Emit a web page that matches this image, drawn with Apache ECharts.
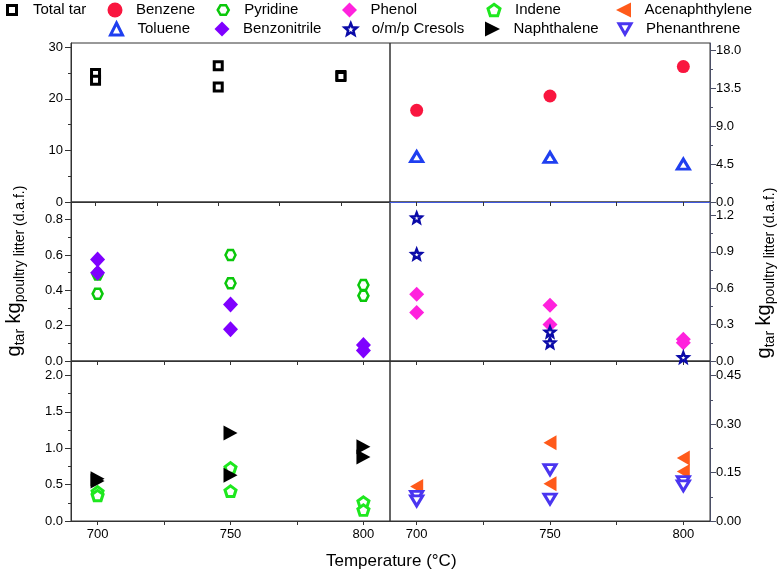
<!DOCTYPE html>
<html><head><meta charset="utf-8">
<script src="https://cdn.jsdelivr.net/npm/echarts@6/dist/echarts.min.js"></script>
<style>html,body{margin:0;padding:0;background:#fff}#c{width:781px;height:572px}</style>
</head><body><div id="c"></div>
<script>
// ---------- data ----------
const temps = [700, 750, 800];
const totalTar      = [[700,24.9],[700,23.6],[750,26.4],[750,22.3],[800,24.5],[800,24.3]];
const benzene       = [[700,10.9],[750,12.6],[800,16.1]];
const toluene       = [[700,5.4],[750,5.3],[800,4.5]];
const pyridine      = [[700,0.49],[700,0.38],[750,0.60],[750,0.44],[800,0.43],[800,0.37]];
const benzonitrile  = [[700,0.575],[700,0.50],[750,0.32],[750,0.18],[800,0.09],[800,0.06]];
const phenol        = [[700,0.55],[700,0.40],[750,0.46],[750,0.30],[800,0.18],[800,0.15]];
const cresols       = [[700,1.18],[700,0.88],[750,0.24],[750,0.15],[800,0.03]];
const indene        = [[700,0.40],[700,0.35],[750,0.73],[750,0.41],[800,0.26],[800,0.15]];
const naphthalene   = [[700,0.58],[700,0.55],[750,1.21],[750,0.63],[800,1.02],[800,0.88]];
const acenaphthylene= [[700,0.107],[750,0.242],[750,0.115],[800,0.195],[800,0.153]];
const phenanthrene  = [[700,0.076],[700,0.062],[750,0.159],[750,0.068],[800,0.122],[800,0.109]];

const seriesNames = ['Total tar','Benzene','Toluene','Pyridine','Benzonitrile','Phenol','o/m/p Cresols','Indene','Naphthalene','Acenaphthylene','Phenanthrene'];

// tick values
const xLabelVals = [700, 750, 800];
const xTickVals  = [700, 725, 750, 775, 800];
const yTL = [0,10,20,30],          yTLminor = [5,15,25];
const yTR = [0,4.5,9,13.5,18],     yTRminor = [2.25,6.75,11.25,15.75];
const yML = [0,0.2,0.4,0.6,0.8],   yMLminor = [0.1,0.3,0.5,0.7];
const yMR = [0,0.3,0.6,0.9,1.2],   yMRminor = [0.15,0.45,0.75,1.05];
const yBL = [0,0.5,1,1.5,2],       yBLminor = [0.25,0.75,1.25,1.75];
const yBR = [0,0.15,0.3,0.45],     yBRminor = [0.075,0.225,0.375];
// axis ranges
const xMin = 690, xMaxTL = 820, xMax = 810;
const yMax = [30.8, 18.9, 0.9, 1.31, 2.2, 0.495];

// ---------- layout / style ----------
const FONT = '"Liberation Sans", Arial, sans-serif';
const grid = [
 {left:71, top:43, width:319, height:159},
 {left:390, top:43, width:320, height:159},
 {left:71, top:202, width:319, height:159},
 {left:390, top:202, width:320, height:159},
 {left:71, top:361, width:319, height:160},
 {left:390, top:361, width:320, height:160}
].map(g => Object.assign({show:true, borderColor:'#333', borderWidth:1, containLabel:false, outerBoundsMode:'none'}, g));

function xAx(gi, max, showLabels, lineColor) {
  return {type:'value', gridIndex:gi, min:xMin, max:max, position:'bottom',
    axisLine:{show:true, onZero:false, lineStyle:{color:lineColor||'#333', width:1}},
    axisTick:{show:true, inside:false, length:4, customValues:xTickVals, lineStyle:{color:'#333'}},
    axisLabel:{show:showLabels, customValues:xLabelVals, margin:7, fontSize:13, color:'#000', fontFamily:FONT},
    splitLine:{show:false}};
}
function yAx(gi, majors, dec, pos, lineColor) {
  return {type:'value', gridIndex:gi, min:0, max:yMax[gi], position:pos,
    axisLine:{show:true, onZero:false, lineStyle:{color:lineColor||'#333', width:1}},
    axisTick:{show:true, inside:false, length:6, customValues:majors, lineStyle:{color:lineColor||'#333'}},
    axisLabel:{show:true, customValues:majors, margin:pos==='left'?8:6, fontSize:13, color:'#000', fontFamily:FONT,
      formatter:v => Number(v).toFixed(dec)},
    splitLine:{show:false}};
}
function yMinorAx(gi, minors, pos, lineColor) {
  return {type:'value', gridIndex:gi, min:0, max:yMax[gi], position:pos,
    axisLine:{show:false, onZero:false},
    axisTick:{show:true, inside:false, length:3, customValues:minors, lineStyle:{color:lineColor||'#333'}},
    axisLabel:{show:false}, splitLine:{show:false}};
}
const RCOL = '#4b4f66';
const yName = '{b|g}{s|tar}{b| kg}{s|poultry litter (d.a.f.)}';
const nameRich = {
  b:{fontSize:20, fontFamily:FONT, color:'#000'},
  s:{fontSize:14, fontFamily:FONT, color:'#000', padding:[12,0,0,0]}
};

const yAxes = [
  yAx(0, yTL, 0, 'left'),
  yAx(1, yTR, 1, 'right', RCOL),
  Object.assign(yAx(2, yML, 1, 'left'), {name:yName, nameLocation:'middle', nameRotate:90, nameGap:44,
     nameTextStyle:{color:'#000', fontFamily:FONT, padding:[0,0,0,21], rich:nameRich}}),
  Object.assign(yAx(3, yMR, 1, 'right', RCOL), {name:yName, nameLocation:'middle', nameRotate:90, nameGap:41,
     nameTextStyle:{color:'#000', fontFamily:FONT, padding:[0,0,0,17], rich:nameRich}}),
  yAx(4, yBL, 1, 'left'),
  yAx(5, yBR, 2, 'right', RCOL),
  yMinorAx(0, yTLminor, 'left'),
  yMinorAx(1, yTRminor, 'right', RCOL),
  yMinorAx(2, yMLminor, 'left'),
  yMinorAx(3, yMRminor, 'right', RCOL),
  yMinorAx(4, yBLminor, 'left'),
  yMinorAx(5, yBRminor, 'right', RCOL)
];
const xAxes = [
  xAx(0, xMaxTL, false), xAx(1, xMax, false, '#4058e0'),
  xAx(2, xMax, false), xAx(3, xMax, false),
  xAx(4, xMax, true), xAx(5, xMax, true)
];

const HEX  = 'path://M0,50 L25,6.7 L75,6.7 L100,50 L75,93.3 L25,93.3 Z';
const STAR = 'path://M50,0 L62.9,32.2 L97.55,34.55 L70.9,56.8 L79.39,90.45 L50,72 L20.61,90.45 L29.1,56.8 L2.45,34.55 L37.1,32.2 Z';
const PENT = 'path://M50,0 L97.55,34.55 L79.39,90.45 L20.61,90.45 L2.45,34.55 Z';
const TRI_R = 'path://M0,0 L100,50 L0,100 Z';
const TRI_L = 'path://M100,0 L0,50 L100,100 Z';
const TRI_D = 'path://M0,0 L100,0 L50,86.6 Z';

function sc(name, data, gi, symbol, size, style) {
  return {type:'scatter', name:name, data:data, xAxisIndex:gi, yAxisIndex:gi, symbol:symbol, symbolSize:size,
    itemStyle:style, clip:false, silent:true, emphasis:{disabled:true}};
}
const hollow = (c, w) => ({color:'#fff', borderColor:c, borderWidth:w, opacity:1});
const filled = c => ({color:c, borderWidth:0, opacity:1});

const series = [
  sc(seriesNames[0], totalTar, 0, 'rect', 8, hollow('#000', 3)),
  sc(seriesNames[1], benzene, 1, 'circle', 13, filled('#f9163f')),
  sc(seriesNames[2], toluene, 1, 'triangle', [12,10], hollow('#1f3ff0', 3)),
  sc(seriesNames[3], pyridine, 2, HEX, [10,10], hollow('#0bc80b', 2.5)),
  sc(seriesNames[4], benzonitrile, 2, 'diamond', [15,16], filled('#7f00ff')),
  sc(seriesNames[5], phenol, 3, 'diamond', [15,15], filled('#ff22dd')),
  sc(seriesNames[6], cresols, 3, STAR, [10,10], hollow('#0a0aa8', 2.5)),
  sc(seriesNames[7], indene, 4, PENT, [11,10.5], hollow('#1ee81e', 3)),
  sc(seriesNames[8], naphthalene, 4, TRI_R, [14,15], filled('#000')),
  sc(seriesNames[9], acenaphthylene, 5, TRI_L, [13,15], filled('#ff5a1a')),
  sc(seriesNames[10], phenanthrene, 5, TRI_D, [12,10], hollow('#4a35f0', 3))
];

// legend layout: icon centre x, row, icon size
const legendLayout = [
  [10.5,0,9],[115,0,15],[115,1,12],[222,0,11],[222,1,15],[349.5,0,15],[349.5,1,12],
  [492.5,0,12],[492.5,1,15],[623.5,0,15],[623.5,1,12]
];
const rowCenter = [10, 29];
const legends = seriesNames.map((n, i) => {
  const L = legendLayout[i];
  const s = L[2];
  return {data:[n], left:L[0]-s/2, top:rowCenter[L[1]]-7.5, padding:0, itemWidth:s, itemHeight:s,
    selectedMode:false, orient:'horizontal',
    itemStyle:{borderWidth:'inherit'},
    textStyle:{fontSize:15, color:'#000', fontFamily:FONT, padding:[0,0,0,16-s/2]}};
});

const chart = echarts.init(document.getElementById('c'), null, {renderer:'canvas'});
chart.setOption({
  animation:false,
  backgroundColor:'#fff',
  title:{text:'Temperature (°C)', left:326, top:553, padding:0,
    textStyle:{fontSize:17, fontWeight:'normal', color:'#000', fontFamily:FONT}},
  legend:legends,
  grid:grid,
  xAxis:xAxes,
  yAxis:yAxes,
  series:series
});
</script></body></html>
